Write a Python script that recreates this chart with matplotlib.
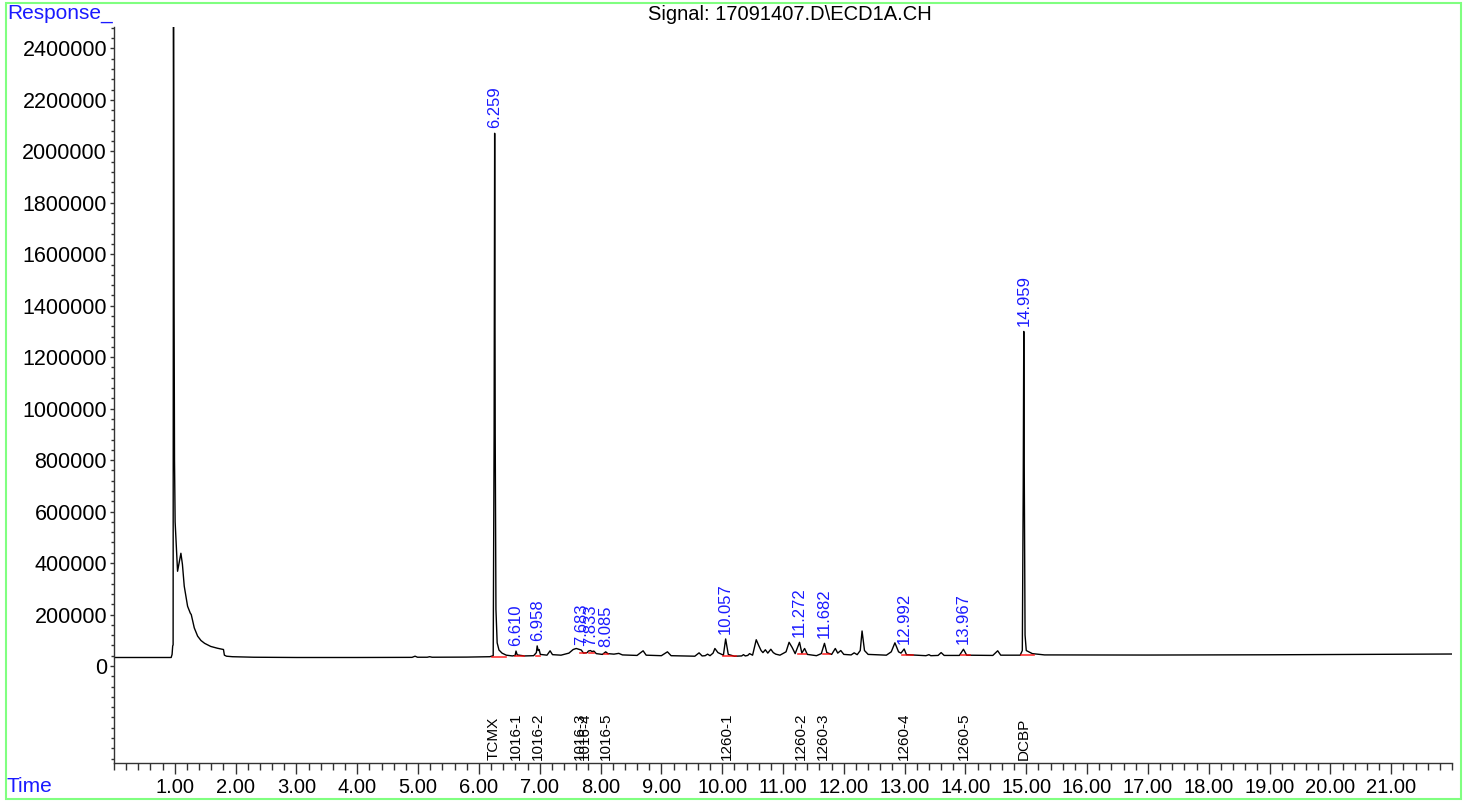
import numpy as np
import matplotlib
matplotlib.use("Agg")
import matplotlib.pyplot as plt
from matplotlib.patches import Rectangle
from matplotlib.ticker import MultipleLocator, FixedLocator
import matplotlib.transforms as mtransforms

plt.rcParams['font.family'] = ['Liberation Sans', 'DejaVu Sans']

# chromatogram trace (min, response)
time = [0.00, 0.94, 0.955, 0.965, 0.972, 0.978, 0.988, 0.995, 1.005, 1.025,
        1.045, 1.07, 1.10, 1.125, 1.155, 1.21, 1.255, 1.27, 1.32, 1.375,
        1.43, 1.49, 1.59, 1.70, 1.80, 1.815, 1.85, 1.95, 2.30, 3.00,
        4.00, 4.90, 4.95, 4.99, 5.15, 5.19, 5.23, 5.80, 6.18, 6.235,
        6.25, 6.259, 6.268, 6.28, 6.30, 6.33, 6.38, 6.45, 6.55, 6.595,
        6.61, 6.63, 6.75, 6.90, 6.945, 6.958, 6.975, 6.99, 7.01, 7.12,
        7.17, 7.21, 7.35, 7.48, 7.55, 7.60, 7.64, 7.683, 7.72, 7.78,
        7.80, 7.833, 7.86, 7.89, 7.93, 8.03, 8.085, 8.12, 8.22, 8.30,
        8.36, 8.60, 8.70, 8.75, 9.00, 9.10, 9.16, 9.55, 9.62, 9.67,
        9.72, 9.76, 9.80, 9.85, 9.88, 9.93, 10.02, 10.057, 10.10, 10.20,
        10.32, 10.35, 10.38, 10.42, 10.45, 10.50, 10.56, 10.60, 10.64, 10.67,
        10.71, 10.75, 10.80, 10.84, 10.88, 10.95, 11.05, 11.10, 11.15, 11.20,
        11.272, 11.31, 11.355, 11.40, 11.55, 11.63, 11.682, 11.72, 11.80, 11.86,
        11.90, 11.95, 12.00, 12.12, 12.17, 12.22, 12.27, 12.30, 12.34, 12.40,
        12.70, 12.78, 12.84, 12.90, 12.94, 12.992, 13.03, 13.35, 13.40, 13.43,
        13.55, 13.60, 13.65, 13.90, 13.967, 14.02, 14.45, 14.53, 14.58, 14.90,
        14.935, 14.95, 14.959, 14.968, 14.98, 15.00, 15.10, 15.30, 17.00, 18.00,
        19.00, 20.00, 21.00, 22.00]
response = [33000, 33000, 45000, 78000, 82000, 2700000, 1400000, 800000, 560000, 460000,
            368000, 400000, 438000, 395000, 310000, 232000, 205000, 200000, 148000, 116000,
            99000, 88000, 76000, 69000, 64000, 42000, 38000, 36000, 34000, 33000,
            33000, 33500, 38000, 34000, 34000, 36000, 34000, 34500, 36000, 40000,
            900000, 2070000, 900000, 220000, 90000, 62000, 50000, 42000, 39000, 41000,
            58000, 43000, 39000, 40000, 52000, 78000, 60000, 64000, 45000, 42000,
            59000, 44000, 42000, 50000, 64000, 68000, 65000, 62000, 50000, 52000,
            58000, 60000, 56000, 58000, 48000, 45000, 55000, 48000, 46000, 49000,
            43000, 41000, 59000, 42000, 40000, 55000, 40000, 38000, 51000, 39000,
            40000, 46000, 40000, 50000, 68000, 52000, 42000, 105000, 45000, 38000,
            39000, 44000, 39000, 41000, 48000, 42000, 102000, 80000, 60000, 52000,
            63000, 50000, 65000, 52000, 46000, 42000, 55000, 92000, 72000, 48000,
            92000, 50000, 68000, 45000, 40000, 48000, 88000, 52000, 45000, 68000,
            50000, 60000, 45000, 43000, 51000, 44000, 60000, 136000, 60000, 45000,
            42000, 55000, 90000, 55000, 50000, 66000, 44000, 40000, 44000, 40000,
            41000, 52000, 41000, 41000, 65000, 42000, 41000, 59000, 42000, 42000,
            60000, 700000, 1300000, 700000, 120000, 60000, 48000, 43000, 42500, 43000,
            43500, 44500, 45500, 46500]

# integrated peaks
peak_rt = [6.259, 6.610, 6.958, 7.683, 7.833, 8.085, 10.057, 11.272, 11.682,
           12.992, 13.967, 14.959]
peak_start = [6.22, 6.60, 6.94, 7.67, 7.81, 8.05, 10.02, 11.24, 11.65, 12.96, 13.92, 14.92]
peak_end = [6.44, 6.74, 7.00, 7.76, 7.89, 8.13, 10.22, 11.37, 11.77, 13.14, 14.08, 15.12]
peak_base = [36000, 39000, 40000, 50000, 50000, 45000, 40000, 45000, 45000, 42000, 41000, 42000]

# compound names and their positions
names = ["TCMX", "1016-1", "1016-2", "1016-3", "1016-4", "1016-5",
         "1260-1", "1260-2", "1260-3", "1260-4", "1260-5", "DCBP"]
name_rt = [6.25, 6.61, 6.97, 7.66, 7.75, 8.08, 10.07, 11.30, 11.66, 12.99, 13.98, 14.96]

fig = plt.figure(figsize=(14.65, 8.02), dpi=100)
ax = fig.add_axes([114/1465, 1-763/802, (1452-114)/1465, (763-27)/802])

ax.plot(time, response, color="black", lw=1.0)

for s, e, b in zip(peak_start, peak_end, peak_base):
    ax.plot([s, e], [b, b], color="red", lw=1.2, alpha=0.8)

for rt in peak_rt:
    h = np.interp(rt, time, response)
    ax.annotate(f"{rt:.3f}", xy=(rt, h), xytext=(0, 5), textcoords="offset pixels",
                rotation=90, ha="center", va="bottom", color="#1a1aff", fontsize=12)

trans = mtransforms.blended_transform_factory(ax.transData, ax.transAxes)
for n, rt in zip(names, name_rt):
    ax.text(rt, 0.004, n, transform=trans, rotation=90, ha="center", va="bottom",
            fontsize=11, color="black")

ax.set_xlim(0, 22)
ax.set_ylim(-377000, 2483000)

for sp in ["top", "right"]:
    ax.spines[sp].set_visible(False)
for sp in ["left", "bottom"]:
    ax.spines[sp].set_color("#333333")
    ax.spines[sp].set_linewidth(1.0)

ax.xaxis.set_major_locator(FixedLocator(np.arange(1, 22)))
ax.set_xticklabels([f"{v:.2f}" for v in np.arange(1, 22)])
ax.xaxis.set_minor_locator(MultipleLocator(0.2))
ax.set_yticks(np.arange(0, 2400001, 200000))
ax.set_yticklabels([str(v) for v in range(0, 2400001, 200000)])
ax.yaxis.set_minor_locator(MultipleLocator(40000))

ax.tick_params(axis="x", which="major", length=8, width=1, pad=3, labelsize=14.5, color="#333333")
ax.tick_params(axis="x", which="minor", length=5, width=1, color="#333333")
ax.tick_params(axis="y", which="major", length=3, width=1, pad=2, labelsize=15.5, color="#333333")
ax.tick_params(axis="y", which="minor", length=2, width=1, color="#333333")

fig.text(7/1465, 1-4/802, "Response_", color="#1a1aff", fontsize=15, ha="left", va="top")
fig.text(790/1465, 1-5/802, "Signal: 17091407.D\\ECD1A.CH", color="black", fontsize=14.5,
         ha="center", va="top")
fig.text(7/1465, 1-787/802, "Time", color="#1a1aff", fontsize=15, ha="left", va="center")

fig.add_artist(Rectangle((6/1465, 3/802), 1455/1465, 796/802, transform=fig.transFigure,
                         fill=False, edgecolor="#80ff80", lw=1.5))

fig.savefig("out.png", dpi=100)
